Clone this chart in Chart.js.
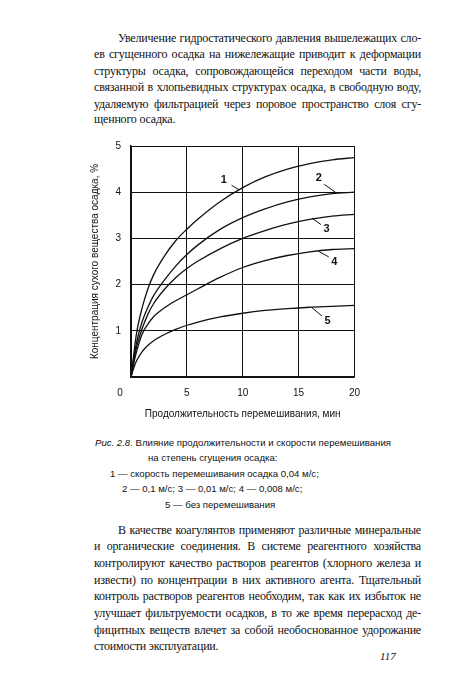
<!DOCTYPE html>
<html>
<head>
<meta charset="utf-8">
<script src="https://cdn.jsdelivr.net/npm/chart.js@4"></script>
<style>
  body { margin: 0; background: #fff; }
  #page { position: relative; width: 450px; height: 686px; overflow: hidden; color: #111; }
  .ln { position: absolute; font-family: "Liberation Serif", "Times New Roman", serif;
        font-size: 12px; letter-spacing: -0.2px; line-height: 16px; height: 16px; overflow: visible;
        text-align: justify; text-align-last: justify; }
  .last { text-align-last: left; }
  .cap { position: absolute; white-space: nowrap; font-family: "Liberation Sans", Arial, sans-serif;
         font-size: 9.6px; line-height: 14px; }
  #chartBox { position: absolute; left: 89px; top: 130px; width: 281px; height: 290px; }
  #pnum { position: absolute; left: 380px; top: 650px; font-family: "Liberation Serif", serif;
          font-style: italic; font-size: 11px; }
</style>
</head>
<body>
<div id="page">
  <div class="ln" style="left:118px;top:30px;width:303px">Увеличение гидростатического давления вышележащих сло-</div>
  <div class="ln" style="left:94px;top:46px;width:327px">ев сгущенного осадка на нижележащие приводит к деформации</div>
  <div class="ln" style="left:94px;top:63px;width:327px">структуры осадка, сопровождающейся переходом части воды,</div>
  <div class="ln" style="left:94px;top:79px;width:327px">связанной в хлопьевидных структурах осадка, в свободную воду,</div>
  <div class="ln" style="left:94px;top:96px;width:327px">удаляемую фильтрацией через поровое пространство слоя сгу-</div>
  <div class="ln last" style="left:94px;top:111px;width:327px">щенного осадка.</div>

  <div id="chartBox"><canvas id="grafico"></canvas></div>

  <div class="cap" style="left:95px;top:436px"><i>Рис. 2.8.</i> Влияние продолжительности и скорости перемешивания</div>
  <div class="cap" style="left:148px;top:451px">на степень сгущения осадка:</div>
  <div class="cap" style="left:110px;top:467px">1 — скорость перемешивания осадка 0,04 м/с;</div>
  <div class="cap" style="left:122px;top:482px">2 — 0,1 м/с; 3 — 0,01 м/с; 4 — 0,008 м/с;</div>
  <div class="cap" style="left:165px;top:498px">5 — без перемешивания</div>

  <div class="ln" style="left:118px;top:522px;width:303px">В качестве коагулянтов применяют различные минеральные</div>
  <div class="ln" style="left:94px;top:538px;width:327px">и органические соединения. В системе реагентного хозяйства</div>
  <div class="ln" style="left:94px;top:555px;width:327px">контролируют качество растворов реагентов (хлорного железа и</div>
  <div class="ln" style="left:94px;top:572px;width:327px">извести) по концентрации в них активного агента. Тщательный</div>
  <div class="ln" style="left:94px;top:588px;width:327px">контроль растворов реагентов необходим, так как их избыток не</div>
  <div class="ln" style="left:94px;top:605px;width:327px">улучшает фильтруемости осадков, в то же время перерасход де-</div>
  <div class="ln" style="left:94px;top:622px;width:327px">фицитных веществ влечет за собой необоснованное удорожание</div>
  <div class="ln last" style="left:94px;top:638px;width:327px">стоимости эксплуатации.</div>

  <div id="pnum">117</div>
</div>
<script>
const canvas = document.getElementById('grafico');

// время перемешивания, мин
const minutos = [0, 0.25, 0.5, 1, 1.5, 2, 3, 4, 5, 6, 8, 10, 12, 14, 16, 18, 20];
// концентрация, %
const curva1 = [0, 0.5, 0.95, 1.5, 1.9, 2.2, 2.62, 2.95, 3.2, 3.42, 3.8, 4.1, 4.33, 4.5, 4.62, 4.7, 4.75];
const curva2 = [0, 0.4, 0.75, 1.2, 1.5, 1.75, 2.1, 2.4, 2.65, 2.86, 3.2, 3.45, 3.64, 3.79, 3.9, 3.97, 4.0];
const curva3 = [0, 0.35, 0.65, 1.05, 1.35, 1.58, 1.9, 2.15, 2.35, 2.51, 2.78, 3.0, 3.17, 3.31, 3.41, 3.48, 3.52];
const curva4 = [0, 0.3, 0.55, 0.93, 1.14, 1.3, 1.5, 1.65, 1.78, 1.91, 2.16, 2.37, 2.52, 2.63, 2.71, 2.76, 2.78];
const curva5 = [0, 0.2, 0.35, 0.55, 0.68, 0.78, 0.92, 1.03, 1.12, 1.19, 1.3, 1.38, 1.44, 1.48, 1.51, 1.53, 1.55];

const xTicks = [0, 5, 10, 15, 20];
const yTicks = [1, 2, 3, 4, 5];

// номера кривых: текст, положение надписи и выноска к кривой (в единицах осей)
const etiquetas = [
  { t: '1', x: 8.3, y: 4.27, x0: 9.0, y0: 4.15, x1: 9.7, y1: 4.05 },
  { t: '2', x: 16.8, y: 4.3, x0: 17.3, y0: 4.17, x1: 18.3, y1: 4.0 },
  { t: '3', x: 17.5, y: 3.2, x0: 17.0, y0: 3.3, x1: 16.2, y1: 3.44 },
  { t: '4', x: 18.2, y: 2.5, x0: 17.7, y0: 2.6, x1: 16.8, y1: 2.72 },
  { t: '5', x: 17.6, y: 1.22, x0: 17.1, y0: 1.32, x1: 16.2, y1: 1.5 }
];

const curvas = [curva1, curva2, curva3, curva4, curva5];

const rotulos = {
  id: 'rotulos',
  afterDatasetsDraw(chart) {
    const ctx = chart.ctx;
    const xs = chart.scales.x, ys = chart.scales.y;
    ctx.save();
    ctx.fillStyle = '#111';
    ctx.strokeStyle = '#111';
    ctx.lineWidth = 1;
    ctx.font = 'bold 11px "Liberation Sans", Arial, sans-serif';
    ctx.textAlign = 'center';
    ctx.textBaseline = 'middle';
    etiquetas.forEach(e => {
      ctx.fillText(e.t, xs.getPixelForValue(e.x), ys.getPixelForValue(e.y));
      ctx.beginPath();
      ctx.moveTo(xs.getPixelForValue(e.x0), ys.getPixelForValue(e.y0));
      ctx.lineTo(xs.getPixelForValue(e.x1), ys.getPixelForValue(e.y1));
      ctx.stroke();
    });
    // "0" в начале координат
    ctx.font = '10px "Liberation Sans", Arial, sans-serif';
    ctx.fillText('0', xs.getPixelForValue(0) - 11, ys.getPixelForValue(0) + 16);
    ctx.restore();
  }
};

new Chart(canvas, {
  type: 'line',
  data: {
    datasets: curvas.map((c, i) => ({
      label: String(i + 1),
      data: minutos.map((m, k) => ({ x: m, y: c[k] })),
      borderColor: '#111',
      borderWidth: 1.3,
      pointRadius: 0,
      cubicInterpolationMode: 'monotone',
      fill: false
    }))
  },
  options: {
    responsive: true,
    maintainAspectRatio: false,
    animation: false,
    layout: { padding: { top: 12, right: 11, left: 0, bottom: 0 } },
    plugins: { legend: { display: false }, tooltip: { enabled: false } },
    scales: {
      x: {
        type: 'linear', min: 0, max: 20,
        afterBuildTicks: s => { s.ticks = xTicks.map(v => ({ value: v })); },
        afterFit: s => { s.height = 43; },
        ticks: {
          color: '#111', padding: 10,
          font: { family: '"Liberation Sans", Arial, sans-serif', size: 10 },
          callback: v => (v === 0 ? '' : v)
        },
        grid: { color: '#111', lineWidth: 1, drawTicks: false },
        border: { color: '#111', width: 1.5 },
        title: {
          display: true, text: 'Продолжительность перемешивания, мин', color: '#111',
          font: { family: '"Liberation Sans", Arial, sans-serif', size: 10 },
          padding: { top: 6, bottom: 0 }
        }
      },
      y: {
        min: 0, max: 5,
        afterBuildTicks: s => { s.ticks = [0].concat(yTicks).map(v => ({ value: v })); },
        afterFit: s => { s.width = 42; },
        ticks: {
          color: '#111', padding: 10,
          font: { family: '"Liberation Sans", Arial, sans-serif', size: 10 },
          callback: v => (v === 0 ? '' : v)
        },
        grid: { color: '#111', lineWidth: 1, drawTicks: false },
        border: { color: '#111', width: 1.5 },
        title: {
          display: true, text: 'Концентрация сухого вещества осадка, %', color: '#111',
          font: { family: '"Liberation Sans", Arial, sans-serif', size: 10 },
          padding: { top: 0, bottom: 8 }
        }
      }
    }
  },
  plugins: [rotulos]
});
</script>
</body>
</html>
